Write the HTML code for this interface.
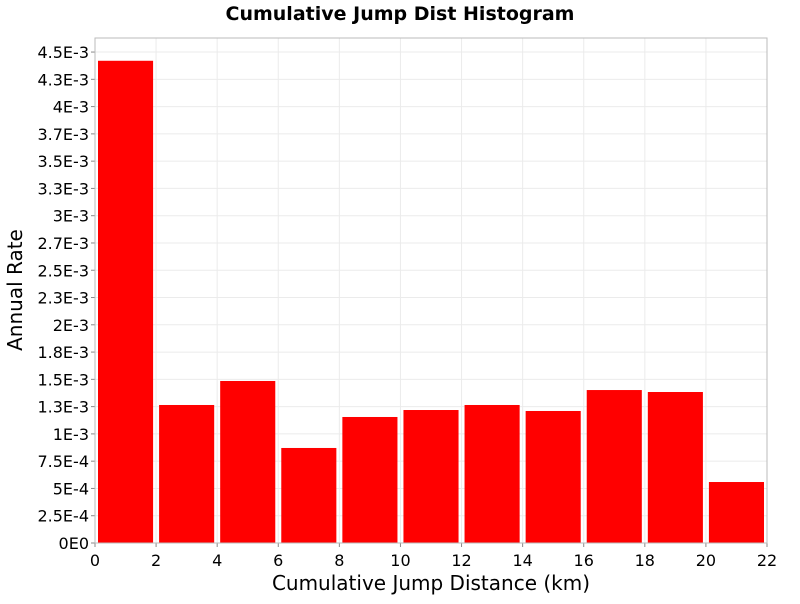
<!DOCTYPE html>
<html><head><meta charset="utf-8"><style>
body{margin:0;background:#fff;font-family:"DejaVu Sans","Liberation Sans",sans-serif}
</style></head><body>
<svg id="chart" width="800" height="600" xmlns="http://www.w3.org/2000/svg">
<text x="400" y="20" text-anchor="middle" font-size="19" font-weight="bold" font-family="DejaVu Sans, Liberation Sans, sans-serif">Cumulative Jump Dist Histogram</text>
<g id="grid"></g><g id="bars"></g><g id="axes"></g>
<text x="431" y="590" text-anchor="middle" font-size="20" font-family="DejaVu Sans, Liberation Sans, sans-serif">Cumulative Jump Distance (km)</text>
<text transform="translate(22,290) rotate(-90)" text-anchor="middle" font-size="20" font-family="DejaVu Sans, Liberation Sans, sans-serif">Annual Rate</text>
</svg>
<script>
const binStarts=[0,2,4,6,8,10,12,14,16,18,20];
const rates=[4.42e-3,1.265e-3,1.485e-3,0.871e-3,1.155e-3,1.219e-3,1.265e-3,1.21e-3,1.402e-3,1.384e-3,0.559e-3];
const binWidth=2;
const xTicks=[0,2,4,6,8,10,12,14,16,18,20,22];
const yTickVals=[0,2.5e-4,5e-4,7.5e-4,1e-3,1.25e-3,1.5e-3,1.75e-3,2e-3,2.25e-3,2.5e-3,2.75e-3,3e-3,3.25e-3,3.5e-3,3.75e-3,4e-3,4.25e-3,4.5e-3];
const yTickLabels=["0E0","2.5E-4","5E-4","7.5E-4","1E-3","1.3E-3","1.5E-3","1.8E-3","2E-3","2.3E-3","2.5E-3","2.7E-3","3E-3","3.3E-3","3.5E-3","3.7E-3","4E-3","4.3E-3","4.5E-3"];
const L=95,R=767,T=38,B=543,xMax=22,yPer=109.1/1e-3;
const X=v=>L+v*(R-L)/xMax, Y=v=>B-v*yPer;
const NS="http://www.w3.org/2000/svg";
function mk(p,t,a){const e=document.createElementNS(NS,t);for(const k in a)e.setAttribute(k,a[k]);p.appendChild(e);return e;}
const grid=document.getElementById('grid'),bars=document.getElementById('bars'),axes=document.getElementById('axes');
xTicks.forEach(v=>{const l=mk(grid,'line',{x1:X(v),x2:X(v),y1:T,y2:B,stroke:'#ebebeb'});


const t=mk(axes,'text',{x:X(v),y:B+23,'text-anchor':'middle','font-size':16});t.textContent=v;


mk(axes,'line',{x1:X(v),x2:X(v),y1:B,y2:B+4,stroke:'#888'});});
yTickVals.forEach((v,i)=>{const l=mk(grid,'line',{x1:L,x2:R,y1:Y(v),y2:Y(v),stroke:'#ebebeb'});


const t=mk(axes,'text',{x:L-6,y:Y(v)+6,'text-anchor':'end','font-size':16});t.textContent=yTickLabels[i];


mk(axes,'line',{x1:L-4,x2:L,y1:Y(v),y2:Y(v),stroke:'#888'});});
binStarts.forEach((s,i)=>{const x0=X(s)+3,x1=X(s+binWidth)-3;
const r=mk(bars,'rect',{x:x0,y:Y(rates[i]),width:x1-x0,height:B-Y(rates[i]),fill:'#ff0000'});

});
const f=mk(axes,'rect',{x:L,y:T,width:R-L,height:B-T,fill:'none',stroke:'#bbb'});


</script>
</body></html>
